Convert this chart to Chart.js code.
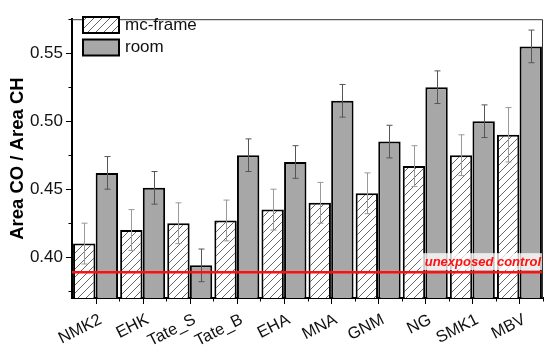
<!DOCTYPE html>
<html>
<head>
<meta charset="utf-8">
<script src="https://cdn.jsdelivr.net/npm/chart.js@4.4.1/dist/chart.umd.min.js"></script>
<style>
  body { margin: 0; background: #fff; }
  #wrap { width: 550px; height: 357px; }
</style>
</head>
<body>
<div id="wrap"><canvas id="ratioChart" width="550" height="357"></canvas></div>
<script>
const samples = ['NMK2', 'EHK', 'Tate_S', 'Tate_B', 'EHA', 'MNA', 'GNM', 'NG', 'SMK1', 'MBV'];
const mcFrame = [0.410, 0.420, 0.425, 0.427, 0.435, 0.440, 0.447, 0.467, 0.475, 0.490];
const mcFrameErr = [0.015, 0.015, 0.015, 0.015, 0.015, 0.015, 0.015, 0.015, 0.015, 0.020];
const room = [0.462, 0.451, 0.394, 0.475, 0.470, 0.515, 0.485, 0.525, 0.500, 0.555];
const roomErr = [0.012, 0.012, 0.012, 0.012, 0.012, 0.012, 0.012, 0.012, 0.012, 0.012];
const controlValue = 0.389;
const controlLabel = 'unexposed control';

const yMin = 0.37;
const yMax = 0.575;
const yTicks = [0.40, 0.45, 0.50, 0.55];
const yMinorTicks = [0.375, 0.425, 0.475, 0.525, 0.575];

// diagonal hatch for the mc-frame bars
function makeHatch() {
    const c = document.createElement('canvas');
    c.width = 8;
    c.height = 8;
    const g = c.getContext('2d');
    g.fillStyle = '#fff';
    g.fillRect(0, 0, 8, 8);
    g.strokeStyle = '#555';
    g.lineWidth = 0.9;
    g.beginPath();
    g.moveTo(0, 8); g.lineTo(8, 0);
    g.moveTo(-1, 1); g.lineTo(1, -1);
    g.moveTo(7, 9); g.lineTo(9, 7);
    g.stroke();
    return g.createPattern(c, 'repeat');
}
const hatch = makeHatch();
const roomGray = '#a7a7a7';

const errorBars = {
    id: 'errorBars',
    afterDatasetsDraw(chart) {
        const ctx = chart.ctx;
        const y = chart.scales.y;
        const sets = [[mcFrame, mcFrameErr, '#999'], [room, roomErr, '#555']];
        ctx.save();
        ctx.lineWidth = 1;
        sets.forEach(function (s, i) {
            const meta = chart.getDatasetMeta(i);
            ctx.strokeStyle = s[2];
            meta.data.forEach(function (bar, j) {
                const x = Math.round(bar.x) + 0.5;
                const top = y.getPixelForValue(s[0][j] + s[1][j]);
                const bot = y.getPixelForValue(s[0][j] - s[1][j]);
                ctx.beginPath();
                ctx.moveTo(x, top); ctx.lineTo(x, bot);
                ctx.moveTo(x - 3, top); ctx.lineTo(x + 3, top);
                ctx.moveTo(x - 3, bot); ctx.lineTo(x + 3, bot);
                ctx.stroke();
            });
        });

        // control line
        const area = chart.chartArea;
        const cy = y.getPixelForValue(controlValue);
        ctx.strokeStyle = '#ff1010';
        ctx.lineWidth = 2.5;
        ctx.beginPath();
        ctx.moveTo(area.left, cy);
        ctx.lineTo(area.right, cy);
        ctx.stroke();

        ctx.font = 'italic bold 13px "Liberation Sans", Arial, sans-serif';
        const w = ctx.measureText(controlLabel).width;
        ctx.fillStyle = 'rgba(255,255,255,0.78)';
        ctx.fillRect(area.right - w - 6, cy - 19, w + 6, 17);
        ctx.fillStyle = '#ff1010';
        ctx.textAlign = 'right';
        ctx.textBaseline = 'alphabetic';
        ctx.fillText(controlLabel, area.right - 2, cy - 6.5);
        ctx.restore();
    },
    afterDraw(chart) {
        const ctx = chart.ctx;
        const area = chart.chartArea;
        const x = chart.scales.x;
        const y = chart.scales.y;
        ctx.save();
        // frame
        ctx.strokeStyle = '#333';
        ctx.lineWidth = 1;
        ctx.beginPath();
        ctx.moveTo(area.left, area.top + 0.5);
        ctx.lineTo(area.right - 0.5, area.top + 0.5);
        ctx.lineTo(area.right - 0.5, area.bottom);
        ctx.stroke();

        // outward tick marks
        ctx.strokeStyle = '#000';
        ctx.lineWidth = 1;
        ctx.beginPath();
        yTicks.forEach(function (v) {
            const py = Math.round(y.getPixelForValue(v)) + 0.5;
            ctx.moveTo(area.left - 6, py); ctx.lineTo(area.left, py);
        });
        yMinorTicks.forEach(function (v) {
            const py = Math.round(y.getPixelForValue(v)) + 0.5;
            ctx.moveTo(area.left - 3.5, py); ctx.lineTo(area.left, py);
        });
        const half = (area.right - area.left) / samples.length / 2;
        samples.forEach(function (s, i) {
            const px = Math.round(x.getPixelForValue(i)) + 0.5;
            ctx.moveTo(px, area.bottom); ctx.lineTo(px, area.bottom + 6);
            const bx = Math.round(x.getPixelForValue(i) + half) + 0.5;
            ctx.moveTo(bx, area.bottom); ctx.lineTo(bx, area.bottom + 3.5);
        });
        ctx.stroke();

        // legend
        const items = [['mc-frame', hatch], ['room', roomGray]];
        ctx.font = '17px "Liberation Sans", Arial, sans-serif';
        ctx.textBaseline = 'middle';
        ctx.textAlign = 'left';
        items.forEach(function (it, i) {
            const by = 17 + i * 22.5;
            ctx.fillStyle = it[1];
            ctx.fillRect(83, by, 36, 16);
            ctx.strokeStyle = '#000';
            ctx.lineWidth = 2;
            ctx.strokeRect(83, by, 36, 16);
            ctx.fillStyle = '#111';
            ctx.fillText(it[0], 125, by + 8);
        });
        ctx.restore();
    }
};

const ctx = document.getElementById('ratioChart').getContext('2d');
const ratioChart = new Chart(ctx, {
    type: 'bar',
    data: {
        labels: samples,
        datasets: [
            {
                label: 'mc-frame',
                data: mcFrame,
                backgroundColor: hatch,
                borderColor: '#000',
                borderWidth: 2,
                base: yMin
            },
            {
                label: 'room',
                data: room,
                backgroundColor: roomGray,
                borderColor: '#000',
                borderWidth: 2,
                base: yMin
            }
        ]
    },
    options: {
        responsive: false,
        animation: false,
        layout: { padding: { top: 6, right: 7, left: 0, bottom: 0 } },
        datasets: { bar: { categoryPercentage: 0.96, barPercentage: 0.99 } },
        plugins: {
            legend: { display: false },
            tooltip: { enabled: false }
        },
        scales: {
            x: {
                grid: { display: false, drawTicks: false },
                border: { display: true, color: '#000', width: 2 },
                ticks: {
                    color: '#111',
                    font: { family: '"Liberation Sans", Arial, sans-serif', size: 16.5 },
                    minRotation: 27,
                    maxRotation: 27,
                    padding: 12,
                    labelOffset: 5,
                    autoSkip: false
                },
                afterFit(scale) { scale.height = 59; }
            },
            y: {
                min: yMin,
                max: yMax,
                grid: { display: false, drawTicks: false },
                border: { display: true, color: '#000', width: 2 },
                afterBuildTicks(scale) {
                    scale.ticks = yTicks.map(function (v) { return { value: v }; });
                },
                ticks: {
                    color: '#111',
                    font: { family: '"Liberation Sans", Arial, sans-serif', size: 17 },
                    padding: 9,
                    callback: function (v) { return v.toFixed(2); }
                },
                title: {
                    display: true,
                    text: 'Area CO / Area CH',
                    color: '#000',
                    font: { family: '"Liberation Sans", Arial, sans-serif', size: 18.5, weight: 'bold' },
                    padding: { top: 7, bottom: 0 }
                },
                afterFit(scale) { scale.width = 72; }
            }
        }
    },
    plugins: [errorBars]
});
</script>
</body>
</html>
